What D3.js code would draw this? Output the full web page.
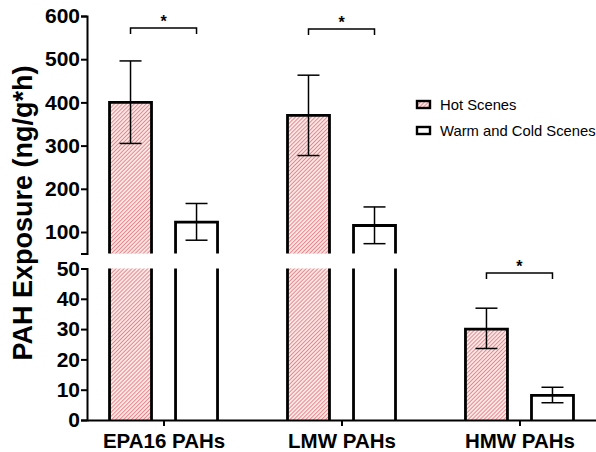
<!DOCTYPE html>
<html>
<head>
<meta charset="utf-8">
<script src="https://cdn.jsdelivr.net/npm/d3@7"></script>
<style>
  body { margin: 0; background: #fff; }
  svg text { font-family: "Liberation Sans", Arial, sans-serif; }
</style>
</head>
<body>
<div id="chart"></div>
<script>
// chart values
var categories = ["EPA16 PAHs", "LMW PAHs", "HMW PAHs"];
var series = ["Hot Scenes", "Warm and Cold Scenes"];
var hotValues = [400, 370, 30];
var hotLow = [305, 277, 23.6];
var hotHigh = [496, 463, 36.9];
var coldValues = [123, 115, 8.1];
var coldLow = [81, 73, 5.7];
var coldHigh = [166, 158, 10.8];
var topTicks = [100, 200, 300, 400, 500, 600];
var bottomTicks = [0, 10, 20, 30, 40, 50];
var significance = ["*", "*", "*"];

(function() {
  "use strict";

  var w = 596;
  var h = 452;
  var breakAt = 50;

  var svg = d3.select("#chart")
    .append("svg")
    .attr("width", w)
    .attr("height", h);

  // hatch for hot bars  ////
  var pat = svg.append("defs").append("pattern")
    .attr("id", "hatch")
    .attr("patternUnits", "userSpaceOnUse")
    .attr("width", 2.8)
    .attr("height", 2.8)
    .attr("patternTransform", "rotate(45)");
  pat.append("rect").attr("width", 2.8).attr("height", 2.8).attr("fill", "#fce6e6");
  pat.append("line")
    .attr("x1", 0).attr("y1", 0).attr("x2", 0).attr("y2", 2.8)
    .attr("stroke", "#e05a5e")
    .attr("stroke-width", 1.3);

  var x = d3.scalePoint()
    .domain(categories)
    .range([87, 596])
    .padding(0.43);

  var xs = d3.scaleBand()
    .domain(series)
    .range([-54, 54])
    .paddingInner(0.364);

  var yTop = d3.scaleLinear().domain([breakAt, 600]).range([253.6, 16]);
  var yBot = d3.scaleLinear().domain([0, breakAt]).range([420, 268.5]);

  // y axes (two pieces)
  var axTop = svg.append("g")
    .attr("transform", "translate(87,0)")
    .call(d3.axisLeft(yTop).tickValues(topTicks).tickSize(6).tickPadding(1));
  var axBot = svg.append("g")
    .attr("transform", "translate(87,0)")
    .call(d3.axisLeft(yBot).tickValues(bottomTicks).tickSize(6).tickPadding(1));

  [axTop, axBot].forEach(function(ax) {
    ax.selectAll("path, line").attr("stroke", "#000").attr("stroke-width", 2);
    ax.selectAll("text")
      .attr("font-size", 21)
      .attr("font-weight", "bold")
      .attr("fill", "#000");
  });

  // bars
  var rows = categories.map(function(c, i) {
    return [
      { cat: c, s: series[0], v: hotValues[i], lo: hotLow[i], hi: hotHigh[i] },
      { cat: c, s: series[1], v: coldValues[i], lo: coldLow[i], hi: coldHigh[i] }
    ];
  });

  function yOf(v) {
    return v > breakAt ? yTop(v) : yBot(v);
  }

  var g = svg.append("g");
  rows.forEach(function(pair) {
    pair.forEach(function(d) {
      var x0 = x(d.cat) + xs(d.s);
      var fill = d.s === series[0] ? "url(#hatch)" : "#fff";
      var pieces = [];
      if (d.v > breakAt) {
        pieces.push([yTop(d.v), yTop(breakAt), true]);
        pieces.push([yBot(breakAt), yBot(0), false]);
      } else {
        pieces.push([yBot(d.v), yBot(0), true]);
      }
      pieces.forEach(function(p) {
        g.append("rect")
          .attr("x", x0)
          .attr("y", p[0])
          .attr("width", xs.bandwidth())
          .attr("height", p[1] - p[0])
          .attr("fill", fill)
          .attr("stroke", "none");
        // outline: sides always, top only on the real top
        var path = d3.path();
        path.moveTo(x0, p[1]);
        path.lineTo(x0, p[0]);
        if (p[2]) path.lineTo(x0 + xs.bandwidth(), p[0]);
        else path.moveTo(x0 + xs.bandwidth(), p[0]);
        path.lineTo(x0 + xs.bandwidth(), p[1]);
        g.append("path")
          .attr("d", path.toString())
          .attr("fill", "none")
          .attr("stroke", "#000")
          .attr("stroke-width", 2.8);
      });

      // error bar
      var cx = x0 + xs.bandwidth() / 2;
      g.append("line")
        .attr("x1", cx).attr("x2", cx)
        .attr("y1", yOf(d.hi)).attr("y2", yOf(d.lo))
        .attr("stroke", "#000").attr("stroke-width", 1.5);
      [d.hi, d.lo].forEach(function(e) {
        g.append("line")
          .attr("x1", cx - 11).attr("x2", cx + 11)
          .attr("y1", yOf(e)).attr("y2", yOf(e))
          .attr("stroke", "#000").attr("stroke-width", 1.5);
      });
    });
  });

  // x axis
  var axX = svg.append("g")
    .attr("transform", "translate(0,420)")
    .call(d3.axisBottom(x).tickSize(6).tickSizeOuter(0).tickPadding(7));
  axX.select(".domain").attr("stroke", "#000").attr("stroke-width", 2);
  axX.selectAll("line").attr("stroke", "#000").attr("stroke-width", 2);
  axX.selectAll("text")
    .attr("font-size", 20.5)
    .attr("font-weight", "bold")
    .attr("fill", "#000");

  // significance brackets
  var bracketY = [28, 29, 273];
  categories.forEach(function(c, i) {
    var a = x(c) + xs(series[0]) + xs.bandwidth() / 2;
    var b = x(c) + xs(series[1]) + xs.bandwidth() / 2;
    var by = bracketY[i];
    svg.append("path")
      .attr("d", "M" + a + "," + (by + 6) + "V" + by + "H" + b + "V" + (by + 6))
      .attr("fill", "none")
      .attr("stroke", "#000")
      .attr("stroke-width", 1.5);
    svg.append("text")
      .attr("x", (a + b) / 2)
      .attr("y", by - 1)
      .attr("text-anchor", "middle")
      .attr("font-size", 16)
      .attr("font-weight", "bold")
      .text(significance[i]);
  });

  // y title
  svg.append("text")
    .attr("transform", "translate(31.5,213) rotate(-90)")
    .attr("text-anchor", "middle")
    .attr("font-size", 27)
    .attr("font-weight", "bold")
    .text("PAH Exposure (ng/g*h)");

  // legend
  var leg = svg.append("g").attr("transform", "translate(417,101)");
  series.forEach(function(s, i) {
    var row = leg.append("g").attr("transform", "translate(0," + (i * 26) + ")");
    row.append("rect")
      .attr("width", 13).attr("height", 7)
      .attr("fill", i === 0 ? "url(#hatch)" : "#fff")
      .attr("stroke", "#000").attr("stroke-width", 2.4);
    row.append("text")
      .attr("x", 23).attr("y", 4)
      .attr("dy", "0.35em")
      .attr("font-size", 14.8)
      .text(s);
  });
})();
</script>
</body>
</html>
